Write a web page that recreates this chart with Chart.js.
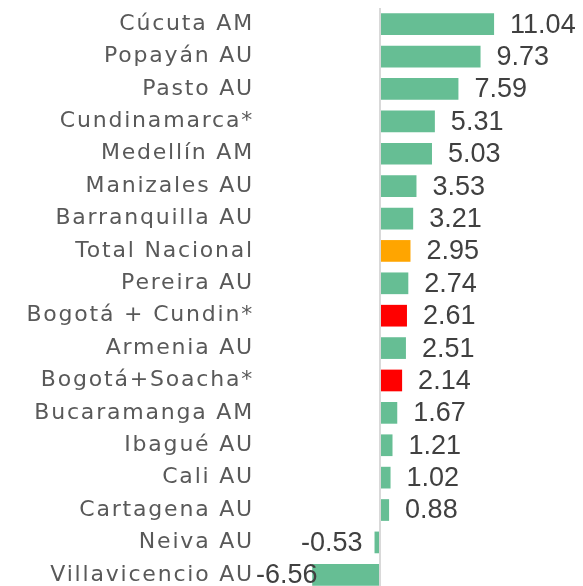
<!DOCTYPE html>
<html>
<head>
<meta charset="utf-8">
<script src="https://cdn.jsdelivr.net/npm/chart.js@4"></script>
<style>
html,body{margin:0;padding:0;background:#fff;overflow:hidden;}
#c{display:block;}
</style>
</head>
<body>
<canvas id="c" width="583" height="600" style="width:583px;height:600px"></canvas>
<script>
const categories = ["Cúcuta AM","Popayán AU","Pasto AU","Cundinamarca*","Medellín AM","Manizales AU","Barranquilla AU","Total Nacional","Pereira AU","Bogotá + Cundin*","Armenia AU","Bogotá+Soacha*","Bucaramanga AM","Ibagué AU","Cali AU","Cartagena AU","Neiva AU","Villavicencio AU"];
const values = [11.04,9.73,7.59,5.31,5.03,3.53,3.21,2.95,2.74,2.61,2.51,2.14,1.67,1.21,1.02,0.88,-0.53,-6.56];
const nationalCategories = ["Total Nacional"];
const bogotaCategories = ["Bogotá + Cundin*","Bogotá+Soacha*"];

const colorFor = (c) => nationalCategories.includes(c) ? "#FFA500" : (bogotaCategories.includes(c) ? "#FF0000" : "#66BE94");

const zeroLine = {
  id: "zeroLine",
  beforeDraw(chart){ chart.ctx.letterSpacing = "1.8px"; },
  afterDatasetsDraw(chart){
    const ctx = chart.ctx;
    const xs = chart.scales.x;
    const a = chart.chartArea;
    const x0 = xs.getPixelForValue(0);
    ctx.save();
    ctx.letterSpacing = "0px";
    ctx.strokeStyle = "#d9d9d9";
    ctx.lineWidth = 2;
    ctx.beginPath();
    ctx.moveTo(x0, a.top);
    ctx.lineTo(x0, a.bottom + 20);
    ctx.stroke();
    ctx.font = "27px 'Liberation Sans'";
    ctx.fillStyle = "#404040";
    ctx.textBaseline = "middle";
    const meta = chart.getDatasetMeta(0);
    meta.data.forEach((bar, i) => {
      const v = values[i];
      const txt = v.toFixed(2);
      const w = ctx.measureText(txt).width;
      let x;
      if (v >= 0) {
        x = bar.x + 16;
      } else {
        x = Math.max(a.left, bar.x - 12 - w);
      }
      ctx.textAlign = "left";
      ctx.fillText(txt, x, bar.y + 1);
    });
    ctx.restore();
  },
  afterDraw(chart){ chart.ctx.letterSpacing = "0px"; }
};

new Chart(document.getElementById("c"), {
  type: "bar",
  data: {
    labels: categories,
    datasets: [{
      data: values,
      backgroundColor: categories.map(colorFor),
      borderWidth: 0,
      categoryPercentage: 1,
      barPercentage: 0.67
    }]
  },
  options: {
    indexAxis: "y",
    responsive: false,
    animation: false,
    events: [],
    layout: { padding: { top: 8, bottom: 9, left: 0, right: 79 } },
    plugins: { legend: { display: false }, tooltip: { enabled: false } },
    scales: {
      x: {
        display: false,
        min: -12,
        max: 12
      },
      y: {
        afterFit(scale){ scale.width = 256; scale.paddingTop = 0; scale.paddingBottom = 0; },
        grid: { display: false, drawTicks: false },
        border: { display: false },
        ticks: {
          padding: 2,
          color: "#595959",
          font: { family: "'DejaVu Sans'", size: 22 },
          autoSkip: false
        }
      }
    }
  },
  plugins: [zeroLine]
});
</script>
</body>
</html>
